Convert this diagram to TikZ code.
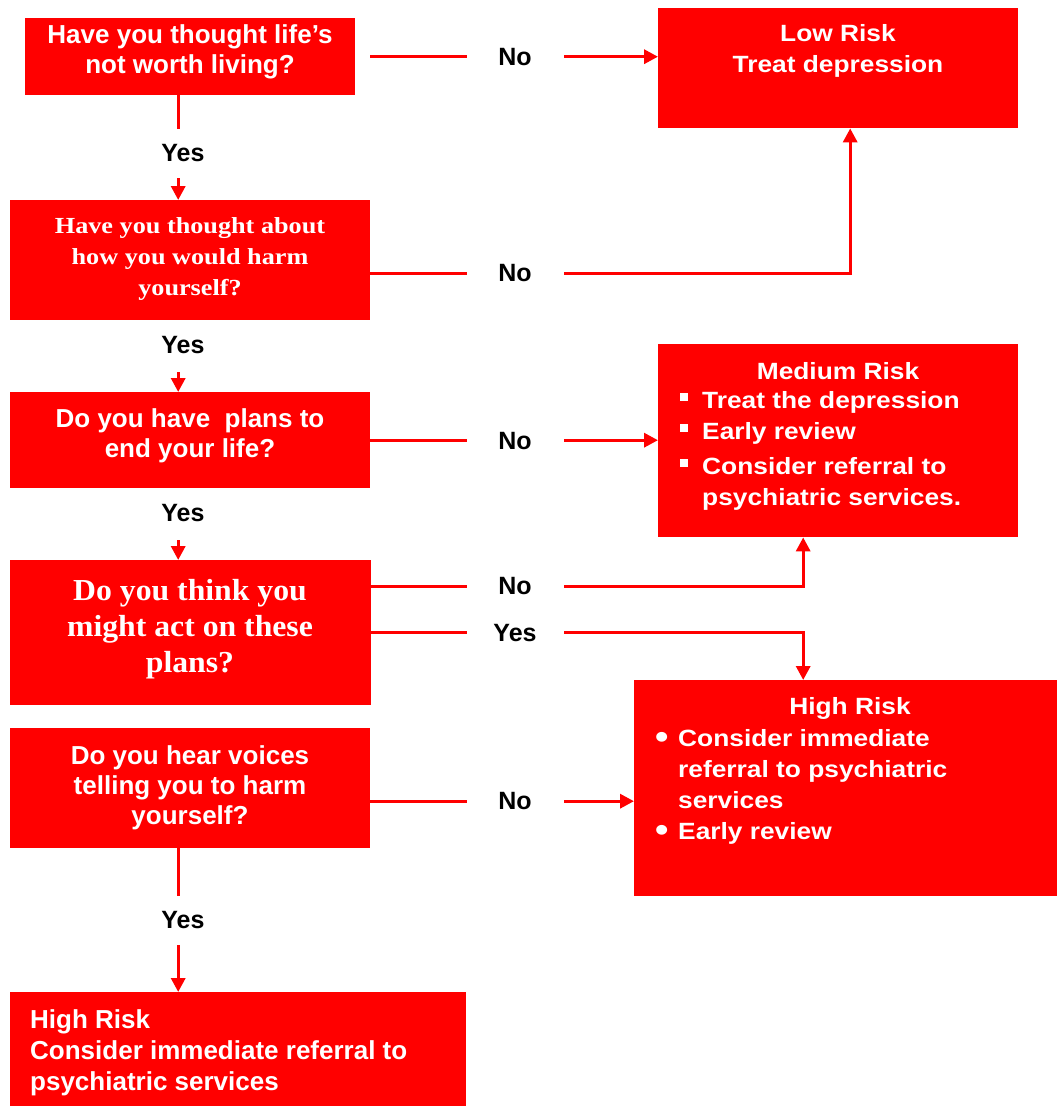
\documentclass[tikz,border=0pt]{standalone}
\usepackage{fontspec}
\setmainfont{Liberation Sans}
\newfontfamily\serifwide[FakeStretch=1.14]{Liberation Serif}
\newfontfamily\serifbig[FakeStretch=1.04]{Liberation Serif}
\newfontfamily\sanswide[FakeStretch=1.12]{Liberation Sans}
\usetikzlibrary{arrows.meta}
\newcommand\sqbul{\makebox[22pt][l]{\rule[7pt]{8pt}{8pt}}}
\newcommand\rdbul{\makebox[23pt][l]{\raisebox{-2.5pt}{\fontsize{34}{31}\selectfont\textbullet}}}
\begin{document}
\begin{tikzpicture}[x=1pt,y=-1pt,
  box/.style={fill=red, draw=none, inner sep=0pt, anchor=north west},
  txt/.style={text=white, font=\bfseries\fontsize{26}{30}\selectfont, align=center, inner sep=0pt, anchor=base},
  sertxt/.style={txt, font=\serifwide\bfseries\fontsize{23}{31}\selectfont},
  bigser/.style={txt, font=\serifbig\bfseries\fontsize{30.5}{36}\selectfont},
  widetxt/.style={txt, font=\sanswide\bfseries\fontsize{23.5}{31}\selectfont},
  conn/.style={draw=red, line width=3.3pt},
  arr/.style={conn, -{Triangle[length=14pt,width=14pt]}},
  hlab/.style={fill=white, inner sep=0pt, minimum width=97pt, minimum height=30pt, font=\bfseries\fontsize{25}{30}\selectfont},
  vlab/.style={fill=white, inner sep=0pt, minimum width=60pt, minimum height=49pt, font=\bfseries\fontsize{25}{30}\selectfont}]
\useasboundingbox (0,0) rectangle (1057,1106);

% boxes
\node[box, minimum width=330pt, minimum height=77pt] (q1) at (25,18) {};
\node[box, minimum width=360pt, minimum height=120pt] (q2) at (10,200) {};
\node[box, minimum width=360pt, minimum height=96pt] (q3) at (10,392) {};
\node[box, minimum width=361pt, minimum height=145pt] (q4) at (10,560) {};
\node[box, minimum width=360pt, minimum height=120pt] (q5) at (10,728) {};
\node[box, minimum width=456pt, minimum height=114pt] (hr2) at (10,992) {};
\node[box, minimum width=360pt, minimum height=120pt] (low) at (658,8) {};
\node[box, minimum width=360pt, minimum height=193pt] (med) at (658,344) {};
\node[box, minimum width=423pt, minimum height=216pt] (high) at (634,680) {};

% texts (anchored at the baseline of their last line)
\node[txt] (t1) at (190,73) {Have you thought life’s\\not worth living?};
\node[sertxt] (t2) at (190,295) {Have you thought about\\how you would harm\\yourself?};
\node[txt] (t3) at (190,457) {Do you have\ \ plans to\\end your life?};
\node[bigser] (t4) at (190,672) {Do you think you\\might act on these\\plans?};
\node[txt] (t5) at (190,824) {Do you hear voices\\telling you to harm\\yourself?};
\node[widetxt] (t6) at (838,72) {Low Risk\\Treat depression};
\node[widetxt] (t7) at (838,379) {Medium Risk};
\node[widetxt, align=left, anchor=base west] (t8) at (680,505)
  {\sqbul Treat the depression\\\sqbul Early review\\[4pt]\sqbul Consider referral to\\\hspace*{22pt}psychiatric services.};
\node[widetxt] (t9) at (850,714) {High Risk};
\node[widetxt, align=left, anchor=base west] (t10) at (655,839)
  {\rdbul Consider immediate\\\hspace*{23pt}referral to psychiatric\\\hspace*{23pt}services\\\rdbul Early review};
\node[txt, font=\bfseries\fontsize{26}{31}\selectfont, align=left, anchor=base west] (t11) at (30,1090)
  {High Risk\\Consider immediate referral to\\psychiatric services};

% connectors
\draw[arr, shorten <=15pt] (q1.east) -- (q1.east -| low.west);
\draw[arr] ([yshift=-13pt]q2.east) -| ([xshift=12pt]low.south);
\draw[arr] (q3.east) -- (q3.east -| med.west);
\draw[arr] ([yshift=46.5pt]q4.east) -| ([xshift=-35pt]med.south);
\draw[arr] (q4.east) -| ([xshift=-42.5pt]high.north);
\draw[arr] ([yshift=-13pt]q5.east) -- ([yshift=-13pt]q5.east -| high.west);
\draw[arr] ([xshift=-12pt]q1.south) -- ([xshift=-12pt]q1.south |- q2.north);
\draw[arr] ([xshift=-12pt]q2.south) -- ([xshift=-12pt]q2.south |- q3.north);
\draw[arr] ([xshift=-12pt]q3.south) -- ([xshift=-12pt]q3.south |- q4.north);
\draw[arr] ([xshift=-12pt]q5.south) -- ([xshift=-12pt]q5.south |- hr2.north);

% labels
\node[hlab] (n1) at (515,57) {No};
\node[hlab] (n2) at (515,273) {No};
\node[hlab] (n3) at (515,441) {No};
\node[hlab] (n4) at (515,586) {No};
\node[hlab] (y5) at (515,633) {Yes};
\node[hlab] (n6) at (515,801) {No};
\node[vlab] (y1) at (183,153) {Yes};
\node[vlab, minimum height=52pt] (y2) at (183,345.5) {Yes};
\node[vlab, minimum height=52pt] (y3) at (183,513.5) {Yes};
\node[vlab] (y4) at (183,920) {Yes};
\end{tikzpicture}
\end{document}
